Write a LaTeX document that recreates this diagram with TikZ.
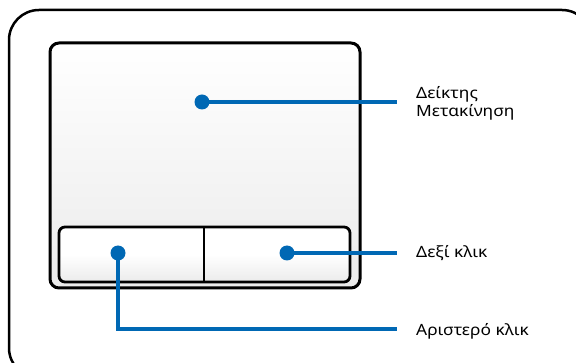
\documentclass[tikz,border=0pt]{standalone}
\usepackage{fontspec}
\setmainfont[FakeStretch=1.12]{Noto Sans}
\definecolor{blu}{HTML}{0068B4}
\definecolor{padgray}{HTML}{EBEBEB}
\begin{document}
\begin{tikzpicture}[x=1pt,y=-1pt,
  dot/.style={circle,fill=blu,inner sep=0pt,minimum size=15pt},
  conn/.style={draw=blu,line width=3.6pt},
  lab/.style={anchor=base west,inner sep=0pt,font=\fontsize{15.5}{18.4}\selectfont,text=black}]
\useasboundingbox (0,0) rectangle (576,363);
\clip (0,0) rectangle (576,363);
% outer frame
\draw[line width=2.5pt,rounded corners=30pt] (9,10) rectangle (592,378);
% touchpad
\draw[line width=3pt,rounded corners=9pt,top color=white,bottom color=padgray] (50,43) rectangle (360,288);
% buttons
\draw[line width=2.8pt,rounded corners=6pt,top color=white,bottom color=padgray,middle color=white] (59,227) rectangle (350,282);
\draw[line width=2.8pt] (204,227) -- (204,282);
% dots
\node[dot] (d1) at (202,102) {};
\node[dot] (d2) at (287,253) {};
\node[dot] (d3) at (118,253) {};
% line ends
\coordinate (e1) at (397,102);
\coordinate (e2) at (397,253);
\coordinate (e3) at (397,329);
\draw[conn] (d1.center) -- (e1);
\draw[conn] (d2.center) -- (e2);
\draw[conn] (d3.center) |- (e3);
% labels
\node[lab] (l1) at (416,98.3) {\vtop{\hbox{Δείκτης}\hbox{Μετακίνηση}}};
\node[lab] (l2) at (416,257.3) {Δεξί κλικ};
\node[lab] (l3) at (416,335.5) {Αριστερό κλικ};
\end{tikzpicture}
\end{document}
